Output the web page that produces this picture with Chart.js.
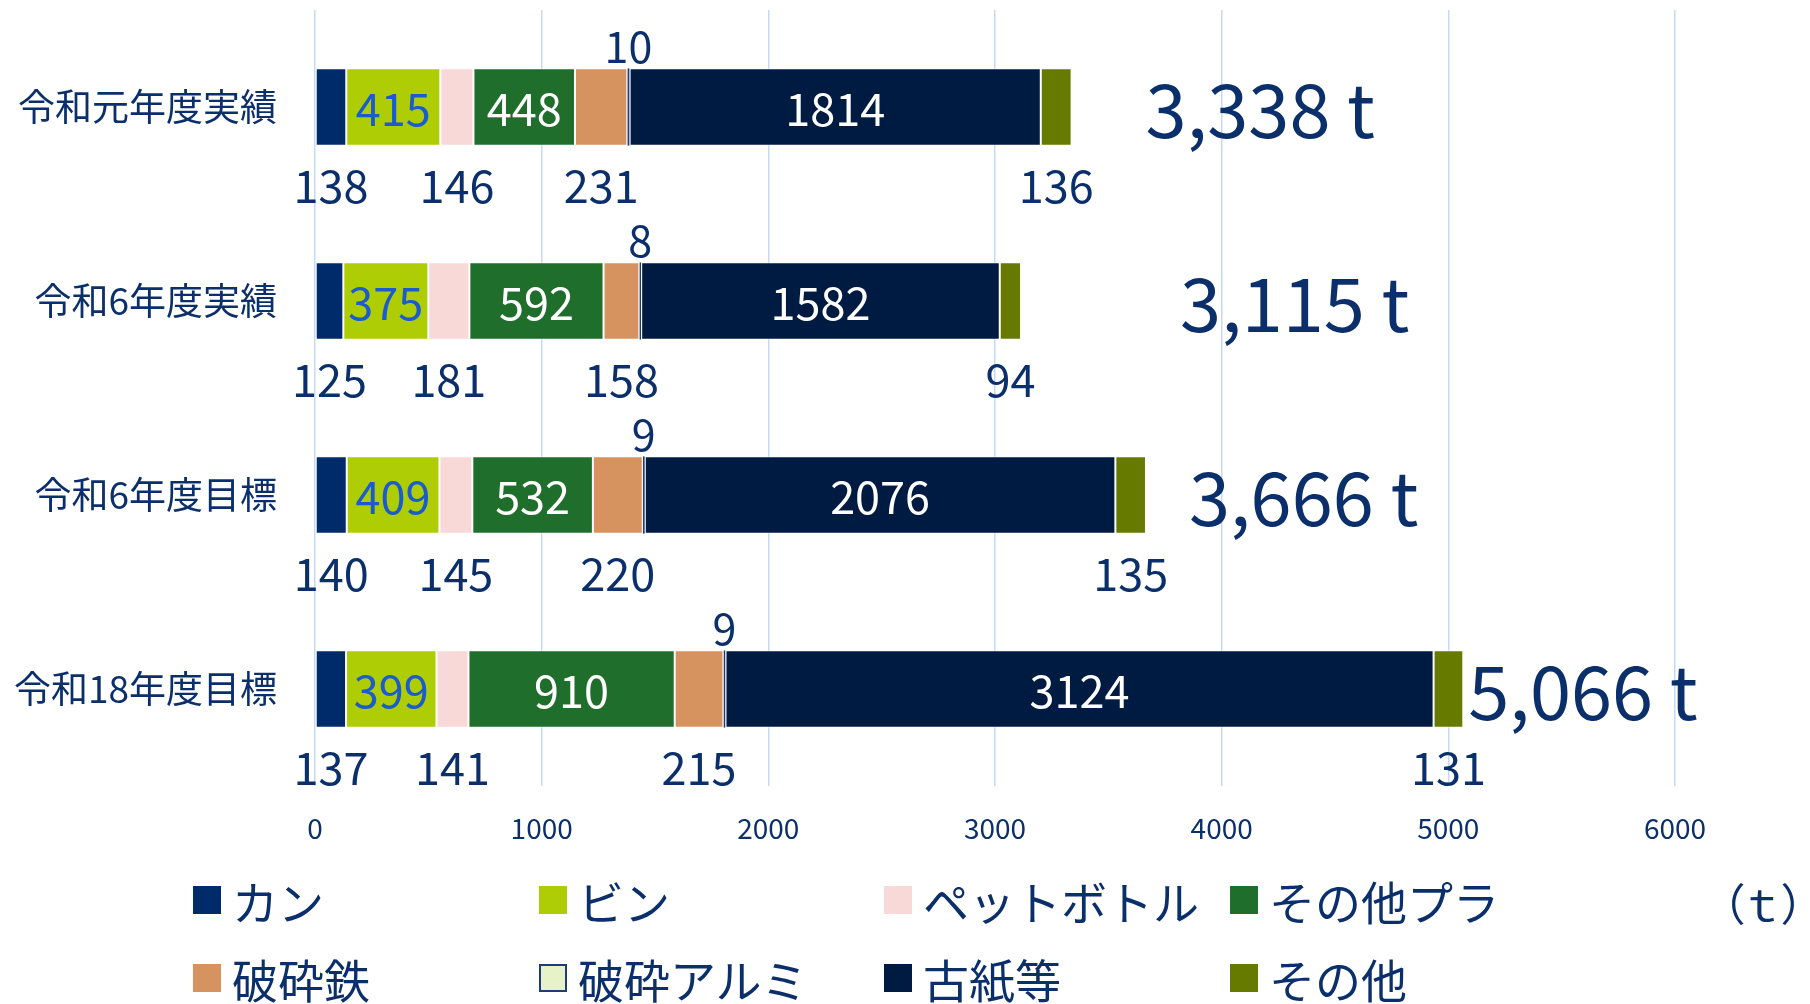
<!DOCTYPE html>
<html>
<head>
<meta charset="utf-8">
<script src="https://cdn.jsdelivr.net/npm/chart.js@4/dist/chart.umd.min.js"></script>
<style>
  html, body { margin: 0; padding: 0; background: #ffffff; }
  #wrap { position: relative; width: 1810px; height: 1004px; overflow: hidden; }
  #c { position: absolute; left: 0; top: 0; }
  .lg { position: absolute; display: flex; align-items: center; font-family: 'Noto Sans CJK JP', 'Noto Sans', sans-serif; font-size: 46px; color: #0b2f6b; white-space: nowrap; line-height: 1; }
  .sw { width: 28px; height: 28px; margin-right: 11px; box-sizing: border-box; flex: none; }
  #unit { position: absolute; left: 1722px; top: 880px; font-family: 'Noto Sans CJK JP', 'Noto Sans', sans-serif; font-size: 44px; color: #0b2f6b; line-height: 1; letter-spacing: 4px; font-feature-settings: "palt"; }
</style>
</head>
<body>
<div id="wrap">
  <canvas id="c" width="1810" height="1004"></canvas>
  <div id="unit">（ｔ）</div>
</div>
<script>
// ---- data ----
const categories = ['令和元年度実績', '令和6年度実績', '令和6年度目標', '令和18年度目標'];
const seriesNames = ['カン', 'ビン', 'ペットボトル', 'その他プラ', '破砕鉄', '破砕アルミ', '古紙等', 'その他'];
const canValues      = [138, 125, 140, 137];
const binValues      = [415, 375, 409, 399];
const petValues      = [146, 181, 145, 141];
const otherPlaValues = [448, 592, 532, 910];
const ironValues     = [231, 158, 220, 215];
const aluValues      = [10, 8, 9, 9];
const paperValues    = [1814, 1582, 2076, 3124];
const otherValues    = [136, 94, 135, 131];
const xTickValues    = [0, 1000, 2000, 3000, 4000, 5000, 6000];
const unitLabel      = ' t';

// ---- styles ----
const FONT = "'Noto Sans CJK JP', 'Noto Sans', sans-serif";
const NAVY = '#0b2f6b';
const colors = ['#002b6b', '#aecd04', '#f9d9d8', '#1f6e2c', '#d69360', '#e8f2c9', '#001b41', '#667a00'];
const labelPos = ['below', 'inside', 'below', 'inside', 'below', 'above', 'inside', 'below'];
const labelColor = [NAVY, '#1a5bd0', NAVY, '#ffffff', NAVY, NAVY, '#ffffff', NAVY];
const totalOffsets = [74, 159, 43, 5];

const allSeries = [canValues, binValues, petValues, otherPlaValues, ironValues, aluValues, paperValues, otherValues];
const totals = categories.map((_, i) => allSeries.reduce((s, arr) => s + arr[i], 0));

const datasets = allSeries.map((vals, k) => ({
  label: seriesNames[k],
  data: vals,
  backgroundColor: colors[k],
  borderColor: k === 5 ? '#1d3c78' : 'rgba(255,255,255,0.7)',
  borderWidth: k === 5 ? 1.5 : 1,
  borderSkipped: false,
  categoryPercentage: 1,
  barPercentage: 0.4
}));

const labelPlugin = {
  id: 'labels',
  afterDatasetsDraw(chart) {
    const ctx = chart.ctx;
    ctx.save();
    ctx.textAlign = 'center';
    ctx.textBaseline = 'middle';
    chart.data.datasets.forEach((ds, k) => {
      const meta = chart.getDatasetMeta(k);
      meta.data.forEach((el, i) => {
        const cx = (el.x + el.base) / 2;
        const top = el.y - el.height / 2;
        const bottom = el.y + el.height / 2;
        let y;
        if (labelPos[k] === 'inside') { y = el.y + 2; ctx.font = '45px ' + FONT; }
        else if (labelPos[k] === 'below') { y = bottom + 40; ctx.font = '45px ' + FONT; }
        else { y = top - 22; ctx.font = '43px ' + FONT; }
        ctx.fillStyle = labelColor[k];
        ctx.fillText(String(ds.data[i]), cx, y);
      });
    });
    // totals
    const xs = chart.scales.x;
    const meta0 = chart.getDatasetMeta(0);
    ctx.textAlign = 'left';
    ctx.font = '74px ' + FONT;
    ctx.fillStyle = NAVY;
    totals.forEach((t, i) => {
      const x = xs.getPixelForValue(t) + totalOffsets[i];
      const y = meta0.data[i].y + 3;
      ctx.fillText(t.toLocaleString('en-US') + unitLabel, x, y);
    });
    ctx.restore();
  }
};

const chart = new Chart(document.getElementById('c'), {
  type: 'bar',
  data: { labels: categories, datasets },
  options: {
    indexAxis: 'y',
    responsive: false,
    animation: false,
    devicePixelRatio: 1,
    layout: { padding: { top: 10, right: 135, left: 0, bottom: 0 } },
    plugins: { legend: { display: false }, tooltip: { enabled: false } },
    scales: {
      x: {
        stacked: true,
        min: 0, max: 6000,
        afterBuildTicks: (s) => { s.ticks = xTickValues.map(v => ({ value: v })); },
        afterFit: (s) => { s.height = 218; s.paddingLeft = 0; s.paddingRight = 0; },
        grid: { color: '#c6daf6', lineWidth: 1.5, drawTicks: false },
        border: { display: false },
        ticks: { color: NAVY, font: { family: FONT, size: 28 }, padding: 26, callback: (v) => String(v), maxRotation: 0 }
      },
      y: {
        stacked: true,
        afterFit: (s) => { s.width = 315; s.paddingTop = 0; s.paddingBottom = 0; },
        grid: { display: false, drawTicks: false },
        border: { display: false },
        ticks: { color: NAVY, font: { family: FONT, size: 37 }, padding: 38 }
      }
    }
  },
  plugins: [labelPlugin]
});

// ---- HTML legend (4 columns x 2 rows) ----
const legendCols = [193, 539, 884, 1230];
const legendRows = [900, 978];
const wrap = document.getElementById('wrap');
seriesNames.forEach((name, k) => {
  const d = document.createElement('div');
  d.className = 'lg';
  d.style.left = legendCols[k % 4] + 'px';
  d.style.top = (legendRows[Math.floor(k / 4)] - 24) + 'px';
  d.style.height = '48px';
  const sw = document.createElement('span');
  sw.className = 'sw';
  sw.style.background = colors[k];
  if (k === 5) sw.style.border = '2px solid #1d3c78';
  const tx = document.createElement('span');
  tx.textContent = name;
  d.appendChild(sw);
  d.appendChild(tx);
  wrap.appendChild(d);
});
</script>
</body>
</html>
